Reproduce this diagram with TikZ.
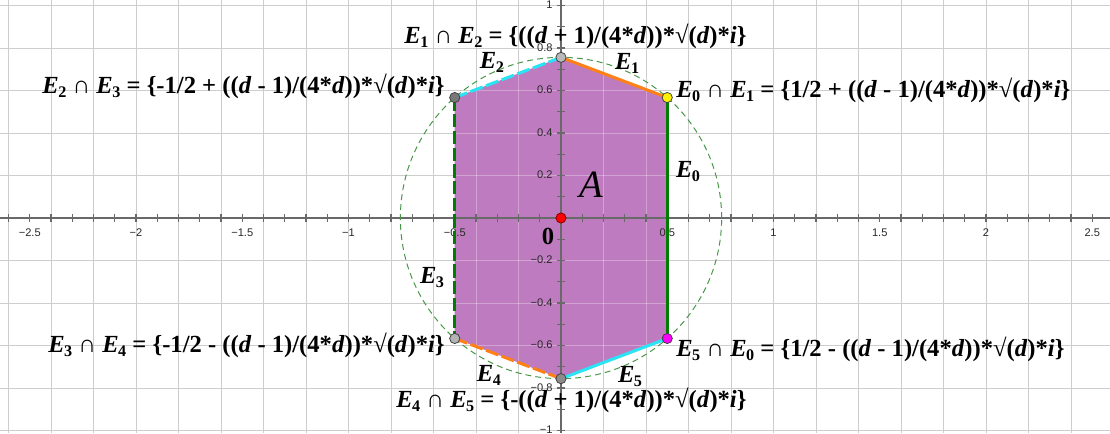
\documentclass[tikz,border=0pt]{standalone}
\usepackage{fontspec}
\setmainfont{Liberation Serif}
\newfontfamily\axisfont{Liberation Sans}
\definecolor{gridgray}{RGB}{205,205,205}
\definecolor{axisgray}{RGB}{105,105,105}
\definecolor{labgray}{RGB}{40,40,40}
\definecolor{polyfill}{RGB}{191,123,191}
\definecolor{edgegreen}{RGB}{0,125,0}
\definecolor{edgeorange}{RGB}{255,128,20}
\definecolor{edgecyan}{RGB}{40,228,245}
\definecolor{circgreen}{RGB}{70,150,70}
\definecolor{ptgrayA}{RGB}{185,185,185}
\definecolor{ptgrayB}{RGB}{120,120,120}
\definecolor{ptgrayC}{RGB}{180,180,180}
\definecolor{ptgrayD}{RGB}{140,140,140}
\definecolor{ptmagenta}{RGB}{255,0,255}
\newcommand\Esub[1]{\textit{E}\kern-0.02em\raisebox{-0.35ex}{\fontsize{9.2}{10}\selectfont #1}}
\begin{document}
\begin{tikzpicture}[x=4.25cm,y=4.25cm,
  gridline/.style={draw=gridgray, line width=0.55pt},
  axisline/.style={draw=axisgray, line width=0.7pt},
  ticklab/.style={font=\axisfont\fontsize{6.3}{7}\selectfont, text=labgray, inner sep=0pt},
  eqlab/.style={font=\bfseries\fontsize{14}{16}\selectfont, inner sep=0pt},
  edgelab/.style={font=\bfseries\fontsize{14}{16}\selectfont, inner sep=0pt},
  edgeline/.style={line width=1.7pt},
  longdash/.style={dash pattern=on 7.5pt off 2pt},
  circdash/.style={draw=circgreen, line width=0.55pt, dash pattern=on 3.4pt off 2.3pt},
  vertex/.style={circle, draw=black!75, line width=0.45pt, minimum size=5.8pt, inner sep=0pt},
]
\useasboundingbox (-2.64,-1.0118) rectangle (2.5835,1.0259);
\fill[white] (-2.64,-1.0118) rectangle (2.5835,1.0259);
% grid
\foreach \k in {-13,...,12} \draw[gridline] ({\k*0.2},-1.0118) -- ({\k*0.2},1.0259);
\foreach \k in {-5,...,5} \draw[gridline] (-2.64,{\k*0.2}) -- (2.5835,{\k*0.2});
% vertices
\coordinate (O) at (0,0);
\coordinate (V0) at (0,0.7559);
\coordinate (V1) at (-0.5,0.5669);
\coordinate (V2) at (-0.5,-0.5669);
\coordinate (V3) at (0,-0.7559);
\coordinate (V4) at (0.5,-0.5669);
\coordinate (V5) at (0.5,0.5669);
% region A
\fill[polyfill] (V0)--(V1)--(V2)--(V3)--(V4)--(V5)--cycle;
\begin{scope}
\clip (V0)--(V1)--(V2)--(V3)--(V4)--(V5)--cycle;
\foreach \k in {-13,...,12} \draw[white, opacity=0.3, line width=0.55pt] ({\k*0.2},-1.0118) -- ({\k*0.2},1.0259);
\foreach \k in {-5,...,5} \draw[white, opacity=0.3, line width=0.55pt] (-2.64,{\k*0.2}) -- (2.5835,{\k*0.2});
\end{scope}
% axes
\draw[axisline] (-2.64,0) -- (2.5835,0);
\draw[axisline] (0,-1.0118) -- (0,1.0259);
\foreach \k in {-26,...,25} \draw[axisline] ({\k/10},-0.019) -- ({\k/10},0.019);
\foreach \k in {-10,...,10} \draw[axisline] (-0.019,{\k/10}) -- (0.019,{\k/10});
\foreach \v/\t [count=\i] in {-2.5/−2.5,-2/−2,-1.5/−1.5,-1/−1,-0.5/−0.5,0.5/0.5,1/1,1.5/1.5,2/2,2.5/2.5}
  \node[ticklab, anchor=base] (xl\i) at (\v,-0.089) {\t};
\foreach \v/\t [count=\i] in {1/1,0.8/0.8,0.6/0.6,0.4/0.4,0.2/0.2,-0.2/−0.2,-0.4/−0.4,-0.6/−0.6,-0.8/−0.8,-1/−1}
  \node[ticklab, anchor=base east] (yl\i) at (-0.038,{\v-0.016}) {\t};
% circle
\draw[circdash] (O) circle (0.7559);
% edges
\draw[edgeline, edgegreen] (V5) -- (V4);
\draw[edgeline, edgeorange] (V0) -- (V5);
\draw[edgeline, edgecyan, longdash] (V1) -- (V0);
\draw[edgeline, edgegreen, longdash] (V1) -- (V2);
\draw[edgeline, edgeorange, longdash] (V2) -- (V3);
\draw[edgeline, edgecyan] (V3) -- (V4);
% points
\node[vertex, fill=ptgrayA] (P12) at (V0) {};
\node[vertex, fill=ptgrayB] (P23) at (V1) {};
\node[vertex, fill=ptgrayC] (P34) at (V2) {};
\node[vertex, fill=ptgrayD] (P45) at (V3) {};
\node[vertex, fill=ptmagenta] (P50) at (V4) {};
\node[vertex, fill=yellow] (P01) at (V5) {};
\node[vertex, fill=red, draw=red!50!black] (Porig) at (O) {};
% labels
\node[eqlab, anchor=base] (L12) at (0.068,0.819) {\Esub{1} ∩ \Esub{2} = \{((\textit{d} + 1)/(4*\textit{d}))*√(\textit{d})*\textit{i}\}};
\node[eqlab, anchor=base east] (L23) at (-0.546,0.584) {\Esub{2} ∩ \Esub{3} = \{-1/2 + ((\textit{d} - 1)/(4*\textit{d}))*√(\textit{d})*\textit{i}\}};
\node[eqlab, anchor=base west] (L01) at (0.541,0.569) {\Esub{0} ∩ \Esub{1} = \{1/2 + ((\textit{d} - 1)/(4*\textit{d}))*√(\textit{d})*\textit{i}\}};
\node[eqlab, anchor=base east] (L34) at (-0.546,-0.631) {\Esub{3} ∩ \Esub{4} = \{-1/2 - ((\textit{d} - 1)/(4*\textit{d}))*√(\textit{d})*\textit{i}\}};
\node[eqlab, anchor=base west] (L50) at (0.541,-0.654) {\Esub{5} ∩ \Esub{0} = \{1/2 - ((\textit{d} - 1)/(4*\textit{d}))*√(\textit{d})*\textit{i}\}};
\node[eqlab, anchor=base] (L45) at (0.049,-0.894) {\Esub{4} ∩ \Esub{5} = \{-((\textit{d} + 1)/(4*\textit{d}))*√(\textit{d})*\textit{i}\}};
\node[edgelab] (lE0) at (0.598,0.221) {\Esub{0}};
\node[edgelab] (lE1) at (0.311,0.729) {\Esub{1}};
\node[edgelab] (lE2) at (-0.325,0.734) {\Esub{2}};
\node[edgelab] (lE3) at (-0.607,-0.282) {\Esub{3}};
\node[edgelab] (lE4) at (-0.339,-0.739) {\Esub{4}};
\node[edgelab] (lE5) at (0.325,-0.744) {\Esub{5}};
\node[font=\itshape\fontsize{22}{24}\selectfont, inner sep=0pt] (lA) at (0.141,0.155) {A};
\node[font=\bfseries\fontsize{14}{16}\selectfont, inner sep=0pt] (l0) at (-0.061,-0.089) {0};
\end{tikzpicture}
\end{document}
